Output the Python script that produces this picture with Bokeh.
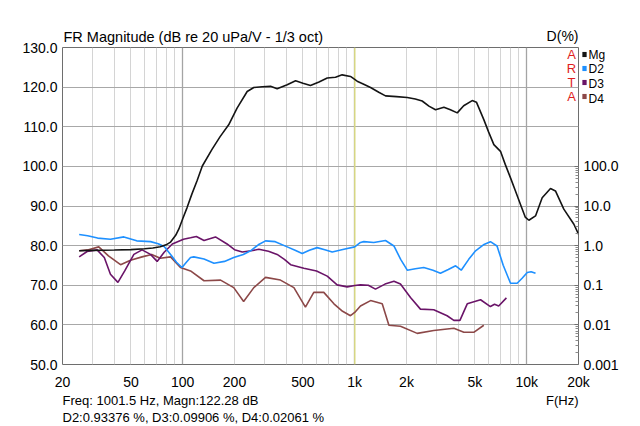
from bokeh.plotting import figure
from bokeh.models import (Range1d, LogScale, LogAxis, FixedTicker, Grid, Span, Label,
                          CustomJSTickFormatter, PrintfTickFormatter)
from bokeh.embed import file_html
from bokeh.resources import INLINE

# ---------------- data ----------------
mg_freq = [25, 30, 40, 50, 60, 67, 74, 80, 85, 91, 95, 100, 106, 113, 121, 130, 148, 165, 185,
           207, 237, 259, 290, 324, 354, 405, 453, 500, 553, 620, 692, 773, 845, 945, 1033, 1120,
           1236, 1380, 1510, 1750, 2019, 2250, 2467, 2700, 2950, 3300, 3600, 3945, 4300, 4820,
           5100, 5630, 6000, 6440, 7040, 7500, 8050, 8600, 9200, 9800, 10290, 11250, 12300,
           13750, 14690, 16430, 18800, 20000]
mg_db = [78.7, 78.8, 78.9, 79.0, 79.2, 79.4, 79.7, 80.2, 80.9, 82.6, 84.2, 86.8, 89.6, 93.0,
         96.3, 100.1, 104.3, 107.5, 110.5, 114.7, 118.9, 119.9, 120.1, 120.2, 119.6, 120.6,
         121.6, 121.0, 120.4, 121.3, 122.3, 122.5, 123.1, 122.7, 121.5, 120.8, 119.9, 118.7,
         117.8, 117.6, 117.4, 117.0, 116.5, 115.2, 114.3, 114.9, 114.3, 113.5, 115.3, 116.6,
         116.2, 111.8, 108.7, 105.5, 103.8, 100.5, 97.1, 93.8, 90.4, 87.2, 86.4, 87.5, 92.1,
         94.4, 93.8, 89.2, 85.4, 82.9]

d2_freq = [25, 28, 32, 38, 45.5, 54, 65, 72, 78, 85, 92, 99, 105, 111, 116, 133, 152, 175, 198,
           225, 248, 275, 303, 345, 405, 450, 495, 545, 605, 670, 740, 865, 1000, 1080, 1130,
           1290, 1510, 1690, 1850, 2020, 2250, 2520, 2850, 3150, 3500, 3860, 4160, 4600, 5040,
           5600, 6150, 6720, 7300, 8050, 8800, 9400, 10070, 10600, 11250]
d2_pct = [1.91, 1.78, 1.55, 1.45, 1.66, 1.32, 1.26, 1.12, 0.95, 0.60, 0.38, 0.28, 0.38, 0.50,
          0.52, 0.46, 0.36, 0.40, 0.50, 0.60, 0.74, 1.05, 1.32, 1.26, 0.93, 0.76, 0.63, 0.76,
          0.89, 0.79, 0.69, 0.81, 0.93, 1.20, 1.26, 1.20, 1.35, 0.98, 0.45, 0.24, 0.26, 0.28,
          0.24, 0.20, 0.25, 0.31, 0.24, 0.45, 0.74, 1.05, 1.26, 0.98, 0.32, 0.112, 0.112, 0.15,
          0.21, 0.22, 0.20]

d3_freq = [25, 27.8, 31.8, 35, 38, 42, 46, 52, 58, 65, 71, 78, 87, 101, 111, 120, 133, 155, 181,
           200, 222, 250, 277, 315, 354, 390, 424, 506, 600, 692, 790, 904, 1000, 1080, 1200,
           1320, 1500, 1690, 1845, 2110, 2410, 2880, 3445, 3770, 4090, 4510, 5390, 6150, 6500,
           6870, 7620]
d3_pct = [0.52, 0.71, 0.78, 0.50, 0.19, 0.118, 0.23, 0.60, 0.78, 0.60, 0.40, 0.68, 1.10, 1.45,
          1.58, 1.70, 1.35, 1.66, 1.10, 0.79, 0.69, 0.74, 0.81, 0.72, 0.60, 0.45, 0.33, 0.27,
          0.23, 0.17, 0.102, 0.091, 0.099, 0.102, 0.100, 0.080, 0.107, 0.126, 0.107, 0.049,
          0.025, 0.024, 0.017, 0.013, 0.013, 0.034, 0.043, 0.029, 0.033, 0.030, 0.048]

d4_freq = [25, 28, 32.5, 37, 43.5, 49.7, 58, 66, 74, 85, 97, 111, 133, 166, 198, 226, 259, 303,
           370, 443, 517, 578, 661, 757, 850, 945, 1000, 1080, 1236, 1445, 1580, 1845, 2310,
           2880, 3770, 4310, 4920, 5630]
d4_pct = [0.74, 0.78, 0.93, 0.55, 0.33, 0.43, 0.52, 0.60, 0.48, 0.52, 0.28, 0.23, 0.13, 0.135,
          0.087, 0.039, 0.087, 0.158, 0.135, 0.087, 0.028, 0.066, 0.066, 0.034, 0.022, 0.017,
          0.0206, 0.030, 0.041, 0.034, 0.0098, 0.0092, 0.0061, 0.0072, 0.0082, 0.0065, 0.0065,
          0.0098]

x_ticks = [20, 50, 100, 200, 500, 1000, 2000, 5000, 10000, 20000]
y_ticks = [50, 60, 70, 80, 90, 100, 110, 120, 130]
pct_ticks = [0.001, 0.01, 0.1, 1, 10, 100]
CURSOR_FREQ = 1001.5

series_names = ["Mg", "D2", "D3", "D4"]
series_colors = ["#141414", "#1e90ff", "#6a1468", "#8c4848"]
arta = ["A", "R", "T", "A"]

FONT = "Liberation Sans"
F_MIN, F_MAX, DB_MIN, DB_MAX = 20, 20000, 50, 130

# ---------------- figure ----------------
p = figure(width=640, height=426, x_axis_type="log",
           x_range=Range1d(F_MIN, F_MAX), y_range=Range1d(DB_MIN, DB_MAX),
           output_backend="svg", toolbar_location=None,
           min_border_left=62, min_border_right=62, min_border_top=46, min_border_bottom=62)
p.extra_y_ranges = {"pct": Range1d(1e-3, 1e5)}
p.extra_y_scales = {"pct": LogScale()}

p.background_fill_color = "white"
p.border_fill_color = "white"
p.outline_line_color = "#6e6e6e"
p.outline_line_width = 1

# grids
minor_f = [m * d for d in (10, 100, 1000) for m in range(2, 10) if F_MIN < m * d < F_MAX]
p.xgrid.ticker = FixedTicker(ticks=minor_f)
p.xgrid.grid_line_color = "#d4d4d4"
p.xgrid.grid_line_width = 1
p.add_layout(Grid(dimension=0, ticker=FixedTicker(ticks=[100, 1000, 10000]),
                  grid_line_color="#a4a4a4", grid_line_width=1.3))
p.ygrid.ticker = FixedTicker(ticks=y_ticks[1:-1])
p.ygrid.grid_line_color = "#a8a8a8"
p.ygrid.grid_line_width = 1

# bottom axis
xa = p.below[0]
xa.ticker = FixedTicker(ticks=x_ticks)
xa.formatter = CustomJSTickFormatter(code="return tick >= 1000 ? (tick/1000) + 'k' : tick.toString();")
xa.major_tick_line_color = None
xa.minor_tick_line_color = None
xa.axis_line_color = None
xa.major_label_standoff = 3
xa.major_label_text_font = FONT
xa.major_label_text_font_size = "14px"
xa.major_label_text_color = "#000000"

# left axis
ya = p.left[0]
ya.ticker = FixedTicker(ticks=y_ticks)
ya.formatter = PrintfTickFormatter(format="%.1f")
ya.major_tick_line_color = None
ya.minor_tick_line_color = None
ya.major_tick_out = 0
ya.minor_tick_out = 0
ya.axis_line_color = None
ya.major_label_standoff = 5
ya.major_label_text_font = FONT
ya.major_label_text_font_size = "14px"
ya.major_label_text_color = "#000000"

# right axis (distortion %)
pct_minor = [m * d for d in (0.001, 0.01, 0.1, 1, 10) for m in range(2, 10)]
ra = LogAxis(y_range_name="pct",
             ticker=FixedTicker(ticks=pct_ticks, minor_ticks=pct_minor),
             formatter=CustomJSTickFormatter(code="return tick >= 1 ? tick.toFixed(1) : tick.toPrecision(1);"))
ra.axis_line_color = None
ra.major_tick_line_color = "#6e6e6e"
ra.major_tick_in = 4
ra.major_tick_out = 0
ra.minor_tick_line_color = "#8a8a8a"
ra.minor_tick_in = 3
ra.minor_tick_out = 0
ra.major_label_standoff = 5
ra.major_label_text_font = FONT
ra.major_label_text_font_size = "14px"
ra.major_label_text_color = "#000000"
p.add_layout(ra, "right")

# cursor
p.add_layout(Span(location=CURSOR_FREQ, dimension="height", line_color="#e4e47c",
                  line_width=1.2, level="underlay"))

# curves
p.line(d4_freq, d4_pct, y_range_name="pct", line_color=series_colors[3], line_width=1.6)
p.line(d3_freq, d3_pct, y_range_name="pct", line_color=series_colors[2], line_width=1.6)
p.line(d2_freq, d2_pct, y_range_name="pct", line_color=series_colors[1], line_width=1.6)
p.line(mg_freq, mg_db, line_color=series_colors[0], line_width=1.6)

# ---------------- texts (anchored to frame corners, pixel offsets) ----------------
def lab(text, x, y, dx, dy, place, size="14px", color="#000000", align="left",
        baseline="middle", line_height=1.2, **kw):
    p.add_layout(Label(x=x, y=y, x_offset=dx, y_offset=dy, text=text,
                       text_font=FONT, text_font_size=size, text_color=color,
                       text_align=align, text_baseline=baseline,
                       text_line_height=line_height, **kw), place)

row_dy = [-7, -21, -35, -49]
for letter, dy in zip(arta, row_dy):
    lab(letter, F_MAX, DB_MAX, -7, dy, "center", size="13px", color="#e01e1e", align="center")

# legend swatches: small filled boxes just right of the frame
for col, dy in zip(series_colors, row_dy):
    lab(" ", F_MAX, DB_MAX, 6, dy, "left", size="1px", align="center",
        padding=2, background_fill_color=col, background_fill_alpha=1.0)
# legend names
lab("\n".join(series_names), F_MAX, DB_MAX, 10, -0.3, "right", size="12px",
    baseline="top", line_height=1.045)

lab("FR Magnitude (dB re 20 uPa/V - 1/3 oct)", F_MIN, DB_MAX, 1, 11, "above", size="14.5px")
lab("D(%)", F_MAX, DB_MAX, 0, 12, "above", size="14px", align="right")
lab("F(Hz)", F_MAX, DB_MIN, 0, -36, "above", size="13px", align="right")

lab("Freq: 1001.5 Hz, Magn:122.28 dB", F_MIN, DB_MIN, 0, -36, "below", size="13px")
lab("D2:0.93376 %, D3:0.09906 %, D4:0.02061 %", F_MIN, DB_MIN, 0, -53, "below", size="13px")

open("out.html", "w").write(file_html(p, INLINE))
